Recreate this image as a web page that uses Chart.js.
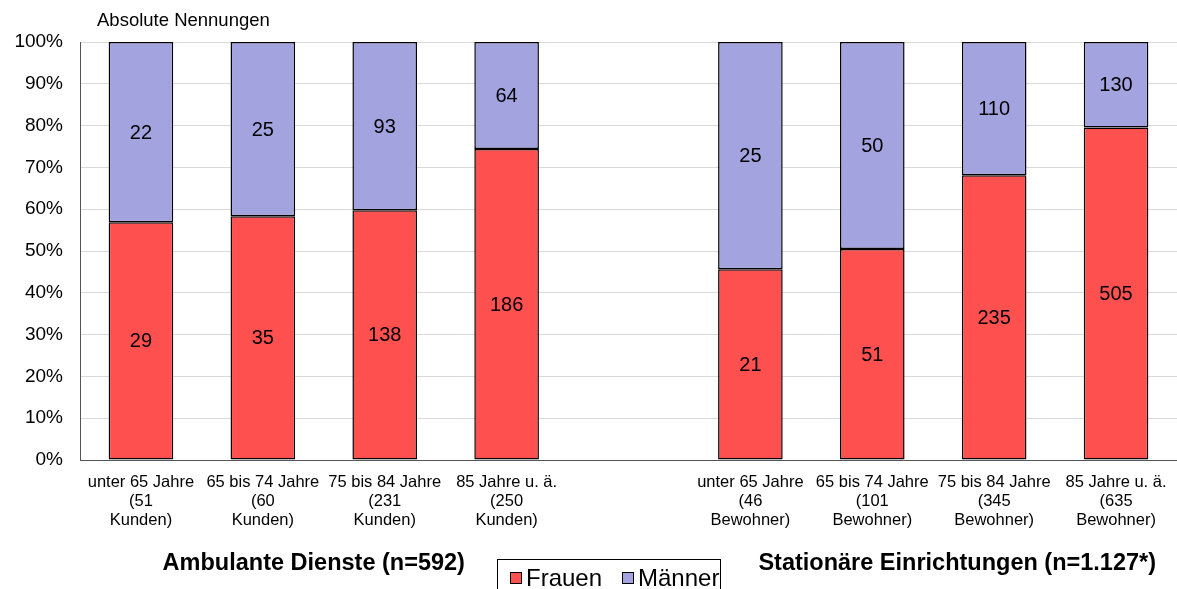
<!DOCTYPE html>
<html lang="de">
<head>
<meta charset="utf-8">
<script src="https://cdn.jsdelivr.net/npm/chart.js@4/dist/chart.umd.min.js"></script>
<style>
  html, body { margin: 0; padding: 0; background: #fff; }
  #wrap { width: 1177px; height: 589px; position: relative; }
</style>
</head>
<body>
<div id="wrap"><canvas id="c" width="1177" height="589"></canvas></div>
<script>
// Altersgruppen (leere Mitte trennt die beiden Versorgungsformen)
const categories = [
  ['unter 65 Jahre', '(51', 'Kunden)'],
  ['65 bis 74 Jahre', '(60', 'Kunden)'],
  ['75 bis 84 Jahre', '(231', 'Kunden)'],
  ['85 Jahre u. ä.', '(250', 'Kunden)'],
  '',
  ['unter 65 Jahre', '(46', 'Bewohner)'],
  ['65 bis 74 Jahre', '(101', 'Bewohner)'],
  ['75 bis 84 Jahre', '(345', 'Bewohner)'],
  ['85 Jahre u. ä.', '(635', 'Bewohner)']
];
// Absolute Nennungen je Geschlecht
const frauen = [29, 35, 138, 186, null, 21, 51, 235, 505];
const maenner = [22, 25, 93, 64, null, 25, 50, 110, 130];
const yTicks = [0, 10, 20, 30, 40, 50, 60, 70, 80, 90, 100];
const groupTitles = ['Ambulante Dienste (n=592)', 'Stationäre Einrichtungen (n=1.127*)'];

// Anteile in Prozent aus den Nennungen
const share = (a, b) => a.map((v, i) => v == null ? null : 100 * v / (v + b[i]));
const frauenPct = share(frauen, maenner);
const maennerPct = share(maenner, frauen);

const FONT = '"Liberation Sans", Arial, sans-serif';
const RED = '#ff5050';
const LAV = '#a3a3df';

const countLabels = {
  id: 'countLabels',
  afterDatasetsDraw(chart) {
    const ctx = chart.ctx;
    const counts = [frauen, maenner];
    ctx.save();
    ctx.font = '20px ' + FONT;
    ctx.fillStyle = '#000';
    ctx.textAlign = 'center';
    ctx.textBaseline = 'middle';
    chart.data.datasets.forEach((ds, di) => {
      chart.getDatasetMeta(di).data.forEach((bar, i) => {
        const v = counts[di][i];
        if (v == null) return;
        const p = bar.getProps(['x', 'y', 'base'], true);
        ctx.fillText(String(v), p.x, (p.y + p.base) / 2 + 1);
      });
    });
    ctx.restore();
  }
};

const extras = {
  id: 'extras',
  afterDraw(chart) {
    const ctx = chart.ctx;
    ctx.save();
    ctx.fillStyle = '#000';
    ctx.textBaseline = 'middle';
    // Überschrift
    ctx.font = '18.5px ' + FONT;
    ctx.textAlign = 'left';
    ctx.fillText('Absolute Nennungen', 97, 21);
    // Gruppentitel
    const xs = chart.scales.x;
    const g1 = (xs.getPixelForValue(0) + xs.getPixelForValue(3)) / 2;
    const g2 = (xs.getPixelForValue(5) + xs.getPixelForValue(8)) / 2;
    ctx.font = 'bold 23.5px ' + FONT;
    ctx.textAlign = 'center';
    ctx.fillText(groupTitles[0], g1 - 10, 564);
    ctx.fillText(groupTitles[1], g2 + 24, 564);
    // Legende mit Rahmen
    ctx.strokeStyle = '#000';
    ctx.lineWidth = 1;
    ctx.strokeRect(497.5, 559.5, 223, 40);
    const items = [
      { label: chart.data.datasets[0].label, color: RED, x: 510 },
      { label: chart.data.datasets[1].label, color: LAV, x: 622 }
    ];
    ctx.font = '24px ' + FONT;
    ctx.textAlign = 'left';
    items.forEach(it => {
      ctx.fillStyle = it.color;
      ctx.fillRect(it.x + 0.5, 572.5, 11, 11);
      ctx.strokeRect(it.x + 0.5, 572.5, 11, 11);
      ctx.fillStyle = '#000';
      ctx.fillText(it.label, it.x + 16, 579);
    });
    ctx.restore();
  }
};

new Chart(document.getElementById('c'), {
  type: 'bar',
  data: {
    labels: categories,
    datasets: [
      { label: 'Frauen', data: frauenPct, backgroundColor: RED, borderColor: '#000', borderWidth: 1.5, borderSkipped: false },
      { label: 'Männer', data: maennerPct, backgroundColor: LAV, borderColor: '#000', borderWidth: 1.5, borderSkipped: false }
    ]
  },
  options: {
    responsive: false,
    animation: false,
    devicePixelRatio: 1,
    layout: { padding: { top: 42, right: 0, left: 0, bottom: 0 } },
    datasets: { bar: { barPercentage: 0.53, categoryPercentage: 1 } },
    plugins: { legend: { display: false }, tooltip: { enabled: false } },
    scales: {
      x: {
        stacked: true,
        grid: { display: false, drawTicks: false },
        border: { color: '#555', width: 1 },
        ticks: { color: '#000', font: { family: FONT, size: 16.5, lineHeight: 1.15 }, padding: 13, maxRotation: 0, autoSkip: false },
        afterFit(s) { s.height = 129; s.paddingLeft = 0; s.paddingRight = 0; }
      },
      y: {
        stacked: true,
        min: 0, max: 100,
        afterBuildTicks(s) { s.ticks = yTicks.map(v => ({ value: v })); },
        grid: { color: '#d9d9d9', drawTicks: false },
        border: { color: '#555', width: 1 },
        ticks: { color: '#000', font: { family: FONT, size: 19 }, padding: 17, callback: v => v + '%' },
        afterFit(s) { s.width = 80; }
      }
    }
  },
  plugins: [countLabels, extras]
});
</script>
</body>
</html>
